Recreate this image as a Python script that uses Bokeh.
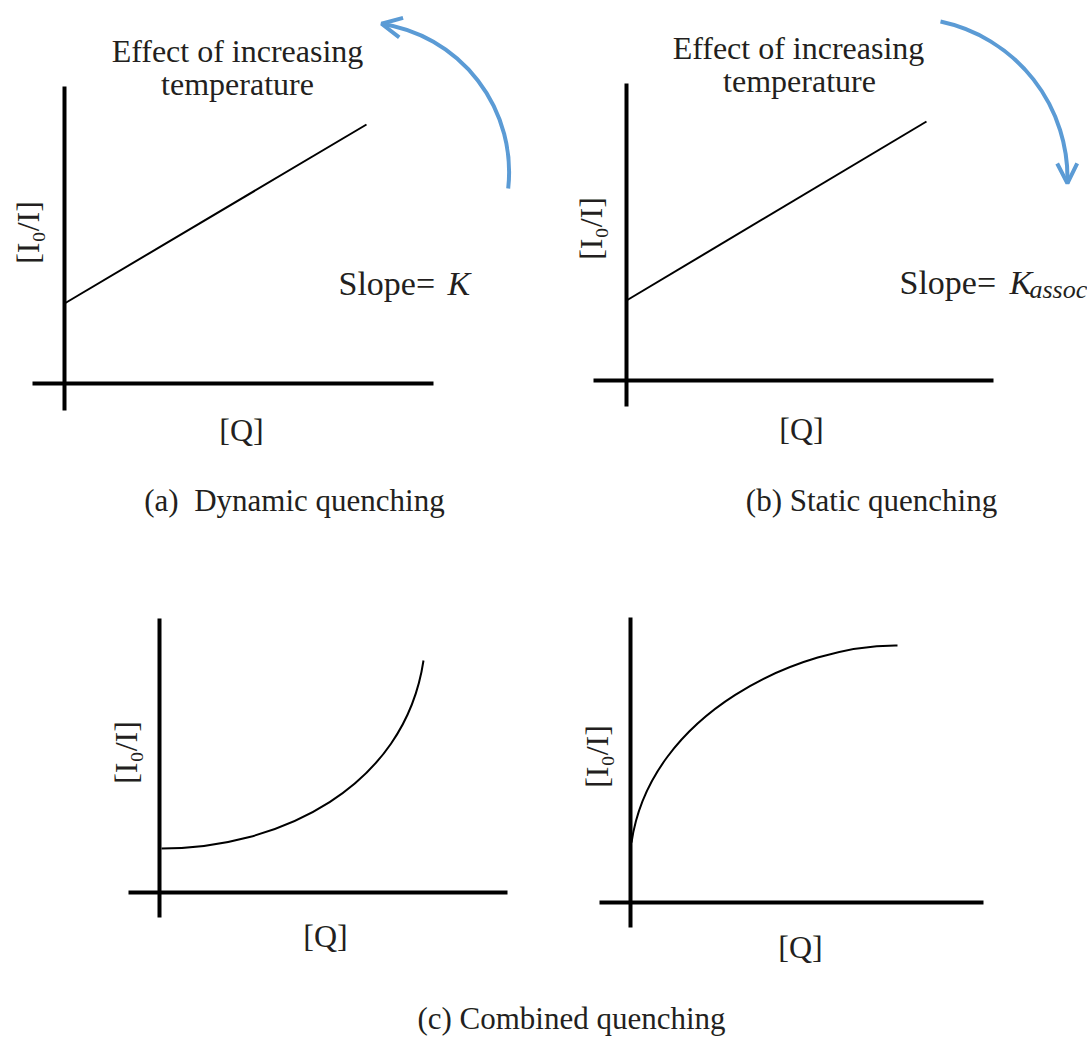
import math
from bokeh.plotting import figure
from bokeh.layouts import column, row
from bokeh.models import Range1d, Arrow, OpenHead
from bokeh.core.properties import value
from bokeh.embed import file_html
from bokeh.resources import INLINE

FONT = "Liberation Serif"
INK = "#231f20"
BLUE = "#5b9bd5"

# ---- data (units: pixels measured from each panel's axis origin, y up) ----
# (a) Dynamic quenching
a_axis_q = [-32, 369]
a_axis_ratio = [-27, 297]
a_line_q = [0, 302]
a_line_ratio = [80, 259]
a_arc = [294.6, 211.4, 150.0, -6.3, 81.4]      # cx, cy, r, start deg, end deg (tip at end)

# (b) Static quenching
b_axis_q = [-33, 367]
b_axis_ratio = [-26, 297]
b_line_q = [0, 300]
b_line_ratio = [80, 259]
b_arc = [281.0, 202.4, 160.0, -1.9, 78.1]      # tip at start

# (c) Combined quenching, upward-curving
c_axis_q = [-31, 348]
c_axis_ratio = [-25, 274]
c_curve_q = [2, 120, 245, 264]                 # start, ctrl1, ctrl2, end
c_curve_ratio = [44, 44, 105, 232]

# (c) Combined quenching, saturating
d_axis_q = [-31, 353]
d_axis_ratio = [-25, 285]
d_curve_q = [1, 20, 170, 267]
d_curve_ratio = [60, 190, 258, 257]

ylabel = "[I\u2080/I]"
xlabel = "[Q]"
effect_lines = ["Effect of increasing", "temperature"]
captions = ["(a)\u00a0 Dynamic quenching", "(b) Static quenching", "(c) Combined quenching"]


def panel(w, h, x0, x1, y0, y1):
    p = figure(width=w, height=h, x_range=Range1d(x0, x1), y_range=Range1d(y0, y1),
               x_axis_type=None, y_axis_type=None, toolbar_location=None,
               output_backend="svg", min_border=0)
    p.outline_line_color = None
    p.background_fill_color = "white"
    p.border_fill_color = "white"
    return p


def txt(p, x, y, s, size="32px", align="left", baseline="alphabetic", angle=0.0, style="normal"):
    p.text(x=[x], y=[y], text=[s], text_font=value(FONT), text_font_size=value(size),
           text_align=align, text_baseline=baseline, angle=angle,
           text_font_style=style, text_color=INK)


def axes(p, qx, ry):
    p.line(qx, [0, 0], line_color="black", line_width=4)
    p.line([0, 0], ry, line_color="black", line_width=4)


def arc_arrow(p, arc, tip_at_end):
    cx, cy, r, a0, a1 = arc
    p.arc(x=[cx], y=[cy], radius=r, start_angle=math.radians(a0), end_angle=math.radians(a1),
          direction="anticlock", line_color=BLUE, line_width=4)
    th = a1 if tip_at_end else a0
    bk = th - 5 if tip_at_end else th + 5
    tx, ty = cx + r * math.cos(math.radians(th)), cy + r * math.sin(math.radians(th))
    bx, by = cx + r * math.cos(math.radians(bk)), cy + r * math.sin(math.radians(bk))
    p.add_layout(Arrow(end=OpenHead(size=20, line_color=BLUE, line_width=4),
                       x_start=bx, y_start=by, x_end=tx, y_end=ty, line_alpha=0))


# ---- panel (a) ----
pa = panel(547, 540, -64, 483, -157, 383)
axes(pa, a_axis_q, a_axis_ratio)
pa.line(a_line_q, a_line_ratio, line_color="black", line_width=2)
arc_arrow(pa, a_arc, True)
txt(pa, 173, 333, effect_lines[0], align="center")
txt(pa, 173, 300, effect_lines[1], align="center")
txt(pa, 274, 100, "Slope= ", size="34px")
txt(pa, 383, 100, "K", size="34px", style="italic")
txt(pa, -37, 151, ylabel, align="center", baseline="middle", angle=math.pi / 2)
txt(pa, 177, -46, xlabel, align="center", baseline="middle")
txt(pa, 230, -117, captions[0], size="31px", align="center")

# ---- panel (b) ----
pb = panel(540, 540, -79, 461, -160, 380)
axes(pb, b_axis_q, b_axis_ratio)
pb.line(b_line_q, b_line_ratio, line_color="black", line_width=2)
arc_arrow(pb, b_arc, False)
txt(pb, 172, 333, effect_lines[0], align="center")
txt(pb, 173, 300, effect_lines[1], align="center")
txt(pb, 273, 98, "Slope= ", size="34px")
txt(pb, 383, 98, "K", size="34px", style="italic")
txt(pb, 403, 91, "assoc", size="26px", style="italic")
txt(pb, -36, 152, ylabel, align="center", baseline="middle", angle=math.pi / 2)
txt(pb, 175, -48, xlabel, align="center", baseline="middle")
txt(pb, 245, -120, captions[1], size="31px", align="center")

# ---- panel (c) left ----
pc = panel(547, 450, -159, 388, -98, 352)
axes(pc, c_axis_q, c_axis_ratio)
pc.bezier(x0=[c_curve_q[0]], y0=[c_curve_ratio[0]], cx0=[c_curve_q[1]], cy0=[c_curve_ratio[1]],
          cx1=[c_curve_q[2]], cy1=[c_curve_ratio[2]], x1=[c_curve_q[3]], y1=[c_curve_ratio[3]],
          line_color="black", line_width=2)
txt(pc, -34, 140, ylabel, align="center", baseline="middle", angle=math.pi / 2)
txt(pc, 166, -43, xlabel, align="center", baseline="middle")

# ---- panel (c) right ----
pd = panel(540, 450, -83, 457, -88, 362)
axes(pd, d_axis_q, d_axis_ratio)
pd.bezier(x0=[d_curve_q[0]], y0=[d_curve_ratio[0]], cx0=[d_curve_q[1]], cy0=[d_curve_ratio[1]],
          cx1=[d_curve_q[2]], cy1=[d_curve_ratio[2]], x1=[d_curve_q[3]], y1=[d_curve_ratio[3]],
          line_color="black", line_width=2)
txt(pd, -34, 146, ylabel, align="center", baseline="middle", angle=math.pi / 2)
txt(pd, 170, -44, xlabel, align="center", baseline="middle")

# ---- bottom caption ----
pcap = panel(1087, 47, 0, 1087, 0, 47)
txt(pcap, 571, 19, captions[2], size="31px", align="center")

layout = column(row(pa, pb), row(pc, pd), pcap)
open("out.html", "w").write(file_html(layout, INLINE))
